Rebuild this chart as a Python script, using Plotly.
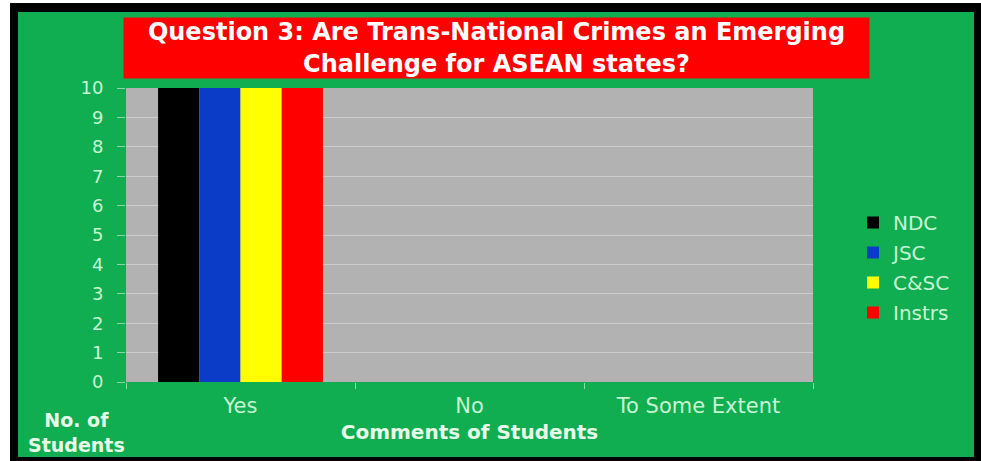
import plotly.graph_objects as go

# Survey responses per group
categories = ["Yes", "No", "To Some Extent"]
series_names = ["NDC", "JSC", "C&SC", "Instrs"]
ndc = [10, 0, 0]
jsc = [10, 0, 0]
csc = [10, 0, 0]
instrs = [10, 0, 0]
y_ticks = list(range(0, 11))

series_values = [ndc, jsc, csc, instrs]
series_colors = ["#000000", "#0a3cc8", "#ffff00", "#ff0000"]

GREEN = "#10ae50"
GRAY = "#b2b2b2"
LIGHT = "#c8f5d4"
FONT = "DejaVu Sans"

W, H = 981, 461
L, R, T, B = 126, 168, 88, 79
pw, ph = W - L - R, H - T - B


def px_x(x):
    return (x - L) / pw


def px_y(y):
    return (H - B - y) / ph


fig = go.Figure()
for i, (name, vals, col) in enumerate(zip(series_names, series_values, series_colors)):
    fig.add_trace(go.Bar(
        x=categories, y=vals, name=name, marker=dict(color=col, line=dict(width=0)),
        legendgroup=str(i),
    ))

# white margin, then black frame around the green panel
frame = [
    ("white", 0, 0, 10, H), ("white", 0, 0, W, 3),
    ("black", 10, 3, 18, H), ("black", 974, 3, W, H),
    ("black", 10, 3, W, 12), ("black", 10, 457, W, H),
]
shapes = []
for col, x0, y0, x1, y1 in frame:
    shapes.append(dict(type="rect", xref="paper", yref="paper", layer="above",
                       x0=px_x(x0), x1=px_x(x1), y0=px_y(y1), y1=px_y(y0),
                       fillcolor=col, line=dict(width=0)))

annotations = [
    dict(text="<b>Question 3: Are Trans-National Crimes an Emerging<br>Challenge for ASEAN states?</b>",
         xref="paper", yref="paper", x=px_x(496.5), y=px_y(48), xanchor="center", yanchor="middle",
         showarrow=False, bgcolor="#ff0000", width=745, height=60, borderpad=0,
         font=dict(family=FONT, size=24, color="white")),
    dict(text="<b>No. of<br>Students</b>", xref="paper", yref="paper",
         x=px_x(76), y=px_y(432), xanchor="center", yanchor="middle", showarrow=False,
         font=dict(family=FONT, size=19, color="#e8fbe9")),
]

fig.update_layout(
    width=W, height=H,
    margin=dict(l=L, r=R, t=T, b=B),
    paper_bgcolor=GREEN, plot_bgcolor=GRAY,
    barmode="group", bargap=0.28, bargroupgap=0,
    font=dict(family=FONT, color=LIGHT),
    legend=dict(x=px_x(853), y=px_y(203), xanchor="left", yanchor="top",
                font=dict(size=20, color=LIGHT), itemwidth=30, tracegroupgap=1,
                bgcolor="rgba(0,0,0,0)"),
    shapes=shapes, annotations=annotations,
    xaxis=dict(tickfont=dict(size=21, color=LIGHT), ticks="outside", ticklen=6,
               tickcolor="#8fdcaa", tickson="boundaries", showgrid=False,
               ticklabelstandoff=9,
               title=dict(text="<b>Comments of Students</b>", font=dict(size=20, color="#e8fbe9"),
                          standoff=7),
               showline=False),
    yaxis=dict(range=[0, 10], tickvals=y_ticks, tickfont=dict(size=18, color=LIGHT),
               ticks="outside", ticklen=8, tickcolor="rgba(220,240,225,0.6)",
               ticklabelstandoff=10,
               showgrid=True, gridcolor="rgba(255,255,255,0.35)", gridwidth=1,
               zeroline=False, showline=False),
)

fig.write_html("out.html")
